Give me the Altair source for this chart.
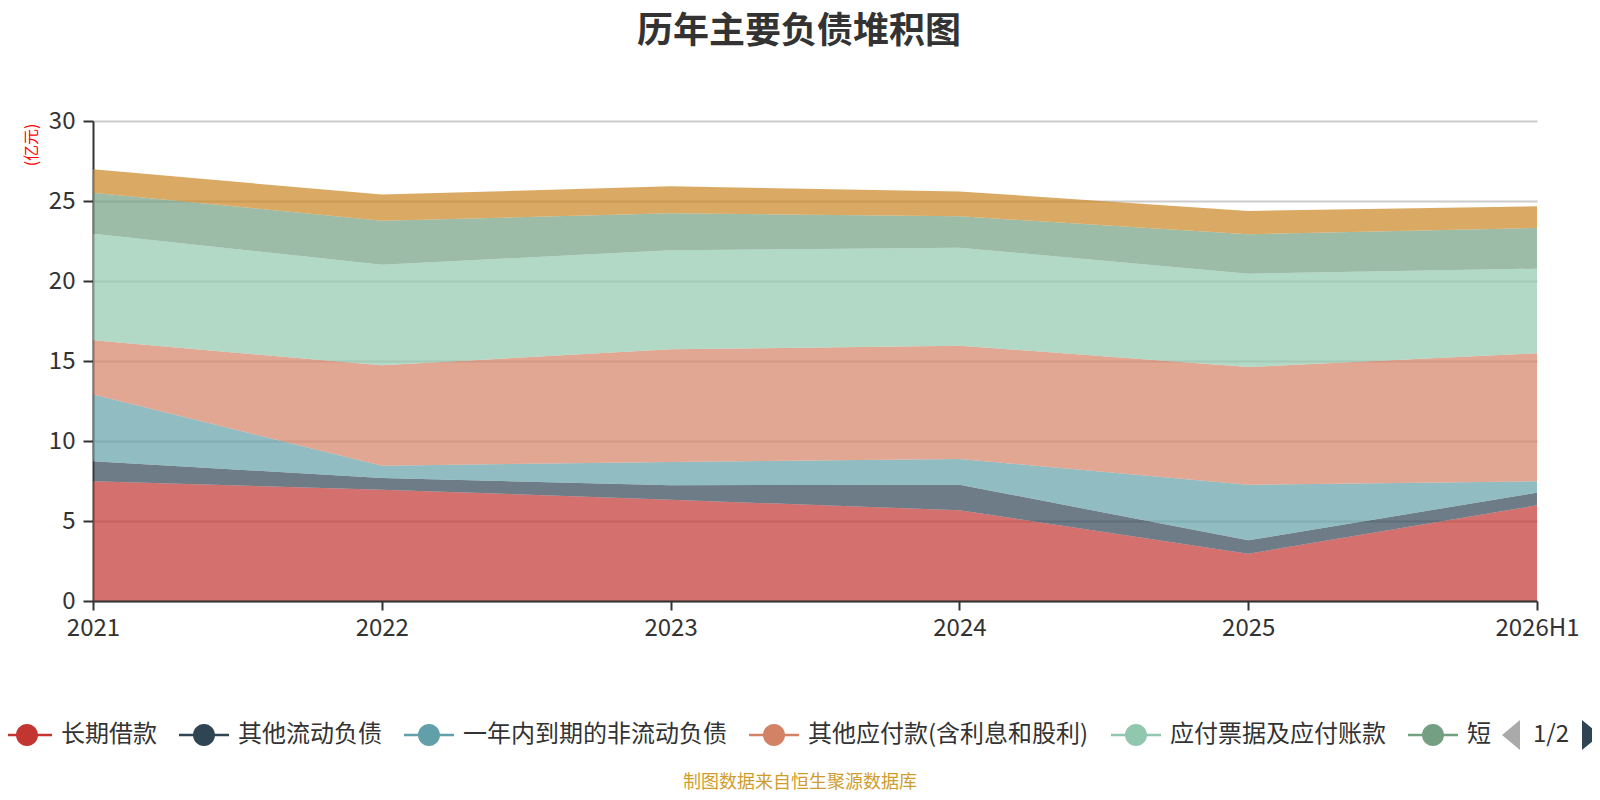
import altair as alt
import pandas as pd

FONT = "Noto Sans CJK SC"

YEARS = ["2021", "2022", "2023", "2024", "2025", "2026H1"]

SERIES = ["长期借款", "其他流动负债", "一年内到期的非流动负债", "其他应付款(含利息和股利)",
          "应付票据及应付账款", "短期借款", "合同负债"]
COLORS = ["#c23531", "#2f4554", "#61a0a8", "#d48265", "#91c7ae", "#749f83", "#ca8622"]

# values in 亿元
long_loan = [7.48, 6.96, 6.33, 5.67, 2.96, 5.98]
other_current = [1.25, 0.73, 0.90, 1.60, 0.83, 0.79]
due_within_year = [4.17, 0.77, 1.46, 1.60, 3.48, 0.71]
other_payables = [3.39, 6.27, 7.04, 7.09, 7.35, 8.00]
notes_accounts = [6.67, 6.29, 6.19, 6.12, 5.84, 5.29]
short_loan = [2.56, 2.75, 2.31, 1.96, 2.46, 2.54]
contract_liab = [1.46, 1.63, 1.69, 1.56, 1.46, 1.36]

VALUES = [long_loan, other_current, due_within_year, other_payables,
          notes_accounts, short_loan, contract_liab]

# line + dot legend symbol, like the original
LEGEND_SYMBOL = ("M-1,-0.05 L1,-0.05 L1,0.05 L-1,0.05 Z "
                 "M0.44,0 A0.44,0.44 0 1,1 -0.44,0 A0.44,0.44 0 1,1 0.44,0 Z")


def build_frame():
    rows = []
    for idx, (name, vals) in enumerate(zip(SERIES, VALUES)):
        for year, v in zip(YEARS, vals):
            rows.append({"year": year, "series": name, "value": v, "idx": idx})
    return pd.DataFrame(rows)


df = build_frame()

area = alt.Chart(df).mark_area(opacity=0.7).encode(
    x=alt.X("year:N", sort=YEARS, scale=alt.Scale(type="point", padding=0),
            axis=alt.Axis(title=None, labelAngle=0, labelFontSize=24, labelColor="#333",
                          labelFont=FONT, labelPadding=6, tickSize=9, tickWidth=2,
                          tickColor="#333", domainColor="#333", domainWidth=2,
                          grid=False, zindex=1)),
    y=alt.Y("value:Q", stack="zero", scale=alt.Scale(domain=[0, 30], nice=False),
            axis=alt.Axis(values=[0, 5, 10, 15, 20, 25, 30], title="(亿元)",
                          titleColor="red", titleFontSize=16, titleFontWeight="normal",
                          titleFont=FONT, titleAngle=270, titleAlign="right",
                          titleBaseline="middle", titleX=-62, titleY=2,
                          labelFontSize=24, labelColor="#333", labelFont=FONT,
                          labelPadding=8, tickSize=10, tickWidth=2, tickColor="#333",
                          domainColor="#333", domainWidth=2,
                          gridColor="#cccccc", gridWidth=2)),
    color=alt.Color("series:N", scale=alt.Scale(domain=SERIES, range=COLORS),
                    legend=alt.Legend(title=None, orient="none", legendX=-91, legendY=589,
                                      direction="horizontal", values=SERIES[:6],
                                      symbolType=LEGEND_SYMBOL, symbolSize=2500,
                                      symbolStrokeWidth=0, symbolOpacity=1,
                                      labelFontSize=24, labelColor="#333", labelFont=FONT,
                                      labelOffset=9, labelLimit=400, columnPadding=22,
                                      padding=0,
                                      labelExpr="datum.label == '短期借款' ? '短' : datum.label")),
    order=alt.Order("idx:Q", sort="ascending"),
)

# legend pager (page 1 of 2)
pager = pd.DataFrame({"label": ["1/2"]})
page_text = alt.Chart(pager).mark_text(fontSize=24, color="#333", font=FONT).encode(
    x=alt.value(1458), y=alt.value(614), text="label:N")
prev_btn = alt.Chart(pager).mark_point(shape="M0.6,-1 L-0.6,0 L0.6,1 Z", filled=True,
                                       size=900, color="#aaaaaa", opacity=1).encode(
    x=alt.value(1418), y=alt.value(614))
next_btn = alt.Chart(pager).mark_point(shape="M-0.6,-1 L0.6,0 L-0.6,1 Z", filled=True,
                                       size=900, color="#2f4554", opacity=1).encode(
    x=alt.value(1498), y=alt.value(614))

source = pd.DataFrame({"note": ["制图数据来自恒生聚源数据库"]})
footer = alt.Chart(source).mark_text(fontSize=18, color="#cf9d2e", font=FONT).encode(
    x=alt.value(707), y=alt.value(662), text="note:N")

chart = alt.layer(area, prev_btn, page_text, next_btn, footer).properties(
    width=1444,
    height=480,
    autosize=alt.AutoSizeParams(type="none"),
    padding={"left": 85, "top": 113, "right": 55, "bottom": 191},
    title=alt.TitleParams("历年主要负债堆积图", fontSize=36, fontWeight="bold", color="#333",
                          font=FONT, anchor="middle", dx=-16, offset=30,
                          baseline="alphabetic"),
).configure_view(stroke="transparent")

chart.save("out.html", embed_options={"renderer": "svg", "actions": False})
